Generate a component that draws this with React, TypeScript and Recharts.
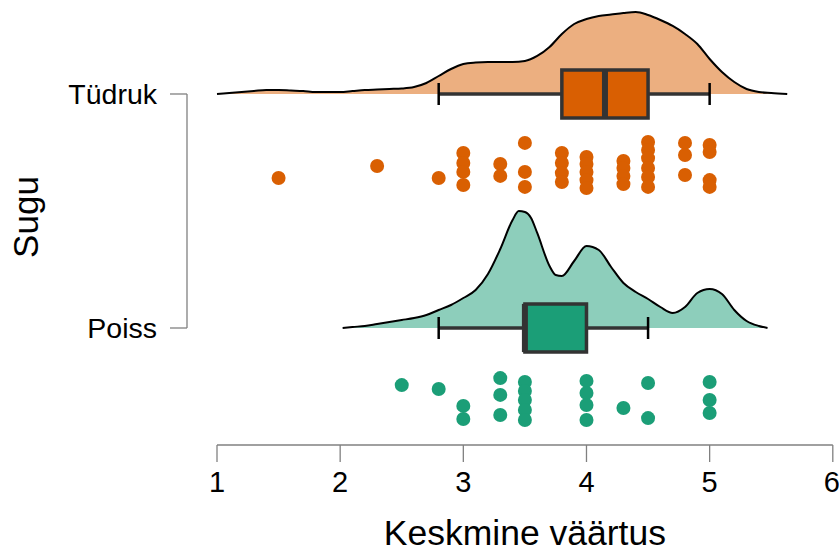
import React from "react";
import {
  ComposedChart,
  Area,
  Scatter,
  XAxis,
  YAxis,
  ReferenceArea,
  ReferenceLine,
} from "recharts";

// groups on the y axis: Poiss = 1, Tüdruk = 2
const groupNames = ["Poiss", "Tüdruk"];
const xTicks = [1, 2, 3, 4, 5, 6];

// kernel density estimates (half-violin "clouds")
const girlsDensityX = [
  1.0, 1.1, 1.2, 1.3, 1.4, 1.5, 1.6, 1.7, 1.8, 1.9, 2.0, 2.1, 2.2, 2.3, 2.4, 2.5,
  2.6, 2.7, 2.8, 2.9, 3.0, 3.1, 3.2, 3.3, 3.4, 3.5, 3.6, 3.7, 3.8, 3.9, 4.0, 4.1,
  4.2, 4.3, 4.4, 4.5, 4.6, 4.7, 4.8, 4.9, 5.0, 5.1, 5.2, 5.3, 5.4, 5.5, 5.63,
];
const girlsDensity = [
  0, 0.01, 0.02, 0.03, 0.04, 0.04, 0.035, 0.03, 0.02, 0.02, 0.02, 0.03, 0.04, 0.045, 0.05, 0.055,
  0.07, 0.11, 0.18, 0.25, 0.3, 0.315, 0.32, 0.32, 0.32, 0.33, 0.38, 0.47, 0.6, 0.7, 0.75, 0.78,
  0.795, 0.81, 0.82, 0.79, 0.74, 0.68, 0.6, 0.5, 0.35, 0.22, 0.12, 0.05, 0.02, 0.01, 0,
];

const boysDensityX = [
  2.02, 2.1, 2.2, 2.3, 2.4, 2.5, 2.6, 2.7, 2.8, 2.9, 3.0, 3.1, 3.2, 3.3, 3.4, 3.45,
  3.5, 3.55, 3.6, 3.7, 3.75, 3.8, 3.9, 4.0, 4.1, 4.2, 4.3, 4.4, 4.5, 4.6, 4.7, 4.8,
  4.9, 5.0, 5.1, 5.2, 5.3, 5.4, 5.47,
];
const boysDensity = [
  0, 0.01, 0.02, 0.04, 0.06, 0.08, 0.1, 0.13, 0.18, 0.23, 0.3, 0.38, 0.54, 0.79, 1.08, 1.17,
  1.16, 1.1, 0.95, 0.62, 0.53, 0.52, 0.67, 0.82, 0.78, 0.61, 0.45, 0.36, 0.29, 0.21, 0.15, 0.21,
  0.35, 0.39, 0.34, 0.18, 0.07, 0.02, 0,
];

// raw scores ("rain") with their vertical jitter below the group line
const girlsScores = [
  1.5, 2.3, 2.8, 3.0, 3.0, 3.0, 3.0, 3.3, 3.3, 3.5, 3.5, 3.5, 3.8, 3.8, 3.8, 3.8,
  4.0, 4.0, 4.0, 4.0, 4.0, 4.3, 4.3, 4.3, 4.3, 4.5, 4.5, 4.5, 4.5, 4.5, 4.5,
  4.8, 4.8, 4.8, 5.0, 5.0, 5.0, 5.0,
];
const girlsJitter = [
  -0.359, -0.308, -0.359, -0.252, -0.295, -0.333, -0.389, -0.299, -0.35, -0.209, -0.333, -0.397,
  -0.252, -0.295, -0.338, -0.376, -0.269, -0.299, -0.333, -0.368, -0.402, -0.286, -0.316, -0.35,
  -0.385, -0.205, -0.239, -0.274, -0.316, -0.355, -0.397, -0.209, -0.261, -0.346, -0.218, -0.248,
  -0.368, -0.397,
];

const boysScores = [
  2.5, 2.8, 3.0, 3.0, 3.3, 3.3, 3.3, 3.5, 3.5, 3.5, 3.5, 3.5, 4.0, 4.0, 4.0, 4.0,
  4.3, 4.5, 4.5, 5.0, 5.0, 5.0,
];
const boysJitter = [
  -0.244, -0.261, -0.333, -0.389, -0.214, -0.286, -0.372, -0.231, -0.269, -0.308, -0.35, -0.393,
  -0.226, -0.278, -0.329, -0.393, -0.342, -0.235, -0.385, -0.231, -0.308, -0.363,
];

// box plot statistics, index 0 = Poiss, 1 = Tüdruk
const whiskerLow = [2.8, 2.8];
const q1 = [3.5, 3.8];
const medians = [3.5, 4.15];
const q3 = [4.0, 4.5];
const whiskerHigh = [4.5, 5.0];

const WIDTH = 839;
const HEIGHT = 553;
const Y_AXIS_W = 187;
const X_AXIS_H = 108;
const X_MIN = 0.7564;
const X_MAX = 6.0503;
const Y_MIN = 0.5;
const Y_MAX = 2.4017;
const DENSITY_SCALE = 0.4274;
const BOX_HALF = 0.103;
const CAP_HALF = 0.047;

const FONT = "'Liberation Sans', Arial, Helvetica, sans-serif";
const AXIS_GREY = "#808080";
const BOX_LINE = "#333333";

const colors = ["#1B9E77", "#D95F02"];
const cloudFills = ["#8DCEBB", "#ECAF80"];

const toCloud = (xs: number[], ds: number[], base: number) =>
  xs.map((x, i) => ({ x, y: base + ds[i] * DENSITY_SCALE }));

const toRain = (xs: number[], jitter: number[], base: number) =>
  xs.map((x, i) => ({ x, y: base + jitter[i] }));

const clouds = [
  toCloud(boysDensityX, boysDensity, 1),
  toCloud(girlsDensityX, girlsDensity, 2),
];
const rain = [toRain(boysScores, boysJitter, 1), toRain(girlsScores, girlsJitter, 2)];

const plotW = WIDTH - Y_AXIS_W;
const xPx = (v: number) => Y_AXIS_W + ((v - X_MIN) / (X_MAX - X_MIN)) * plotW;

function XTitle() {
  return (
    <text
      x={xPx((xTicks[0] + xTicks[xTicks.length - 1]) / 2)}
      y={HEIGHT - 8}
      textAnchor="middle"
      fontFamily={FONT}
      fontSize={35.5}
      fill="#000"
    >
      Keskmine väärtus
    </text>
  );
}

function YTitle() {
  return (
    <text
      x={38}
      y={217}
      transform="rotate(-90, 38, 217)"
      textAnchor="middle"
      fontFamily={FONT}
      fontSize={35}
      fill="#000"
    >
      Sugu
    </text>
  );
}

function boxPlot(g: number) {
  const base = g + 1;
  return [
    <ReferenceLine
      key={`wl${g}`}
      segment={[{ x: whiskerLow[g], y: base }, { x: q1[g], y: base }]}
      stroke={BOX_LINE}
      strokeWidth={3.5}
      ifOverflow="visible"
    />,
    <ReferenceLine
      key={`wh${g}`}
      segment={[{ x: q3[g], y: base }, { x: whiskerHigh[g], y: base }]}
      stroke={BOX_LINE}
      strokeWidth={3.5}
      ifOverflow="visible"
    />,
    <ReferenceLine
      key={`cl${g}`}
      segment={[{ x: whiskerLow[g], y: base - CAP_HALF }, { x: whiskerLow[g], y: base + CAP_HALF }]}
      stroke="#000"
      strokeWidth={2.5}
      ifOverflow="visible"
    />,
    <ReferenceLine
      key={`ch${g}`}
      segment={[{ x: whiskerHigh[g], y: base - CAP_HALF }, { x: whiskerHigh[g], y: base + CAP_HALF }]}
      stroke="#000"
      strokeWidth={2.5}
      ifOverflow="visible"
    />,
    <ReferenceArea
      key={`box${g}`}
      x1={q1[g]}
      x2={q3[g]}
      y1={base - BOX_HALF}
      y2={base + BOX_HALF}
      fill={colors[g]}
      fillOpacity={1}
      stroke={BOX_LINE}
      strokeWidth={3.5}
      ifOverflow="visible"
    />,
    <ReferenceLine
      key={`med${g}`}
      segment={[{ x: medians[g], y: base - BOX_HALF }, { x: medians[g], y: base + BOX_HALF }]}
      stroke={BOX_LINE}
      strokeWidth={6}
      ifOverflow="visible"
    />,
  ];
}

export default function App() {
  return (
    <div style={{ position: "absolute", left: 0, top: 0, background: "#fff" }}>
      <ComposedChart
        width={WIDTH}
        height={HEIGHT}
        margin={{ top: 0, right: 0, bottom: 0, left: 0 }}
      >
        <XAxis
          type="number"
          dataKey="x"
          domain={[X_MIN, X_MAX]}
          allowDataOverflow
          ticks={xTicks}
          axisLine={false}
          tickLine={{ stroke: AXIS_GREY, strokeWidth: 1.3 }}
          tickSize={17}
          tickMargin={9}
          height={X_AXIS_H}
          tick={{ fill: "#000", fontSize: 29, fontFamily: FONT }}
          label={<XTitle />}
        />
        <YAxis
          type="number"
          dataKey="y"
          domain={[Y_MIN, Y_MAX]}
          allowDataOverflow
          ticks={[1, 2]}
          tickFormatter={(v: number) => groupNames[v - 1]}
          axisLine={false}
          tickLine={{ stroke: AXIS_GREY, strokeWidth: 1.3 }}
          tickSize={17}
          tickMargin={13}
          width={Y_AXIS_W}
          tick={{ fill: "#000", fontSize: 28.5, fontFamily: FONT }}
          label={<YTitle />}
        />

        {/* axis lines only between the outer ticks */}
        <ReferenceLine
          segment={[{ x: xTicks[0], y: Y_MIN }, { x: xTicks[xTicks.length - 1], y: Y_MIN }]}
          stroke={AXIS_GREY}
          strokeWidth={1.3}
          ifOverflow="visible"
        />
        <ReferenceLine
          segment={[{ x: X_MIN, y: 1 }, { x: X_MIN, y: 2 }]}
          stroke={AXIS_GREY}
          strokeWidth={1.3}
          ifOverflow="visible"
        />

        {clouds.map((data, g) => (
          <Area
            key={`cloud${g}`}
            data={data}
            dataKey="y"
            type="monotone"
            baseValue={g + 1}
            stroke="#000"
            strokeWidth={2}
            fill={cloudFills[g]}
            fillOpacity={1}
            isAnimationActive={false}
            dot={false}
            activeDot={false}
          />
        ))}

        {boxPlot(0)}
        {boxPlot(1)}

        {rain.map((data, g) => (
          <Scatter
            key={`rain${g}`}
            data={data}
            isAnimationActive={false}
            shape={(p: any) => <circle cx={p.cx} cy={p.cy} r={7} fill={colors[g]} />}
          />
        ))}
      </ComposedChart>
    </div>
  );
}
